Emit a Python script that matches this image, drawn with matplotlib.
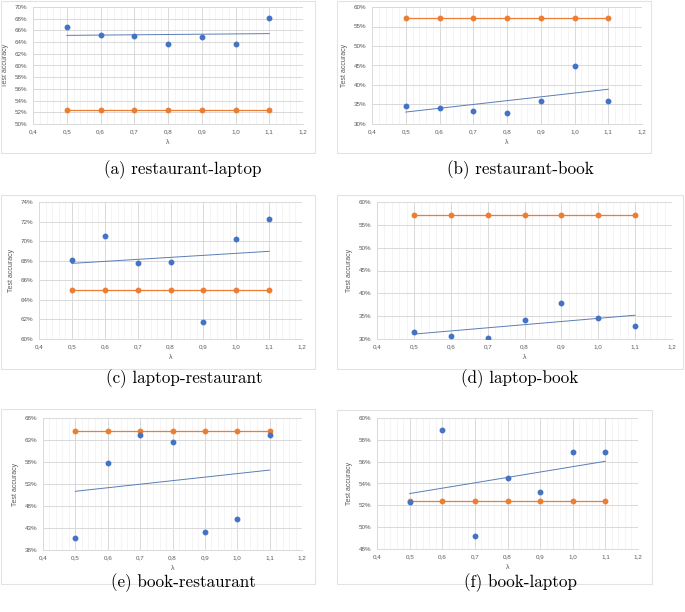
import numpy as np
import matplotlib
matplotlib.use("Agg")
import matplotlib.pyplot as plt
from matplotlib.patches import Rectangle
from matplotlib.ticker import MultipleLocator, FuncFormatter

# lambda values on the x axis
lam = [0.5, 0.6, 0.7, 0.8, 0.9, 1.0, 1.1]

# test accuracy (%) per lambda, blue points
acc_rest_laptop = [66.6, 65.2, 65.0, 63.6, 64.9, 63.7, 68.1]
acc_rest_book = [34.7, 34.2, 33.4, 32.9, 36.0, 44.9, 35.8]
acc_laptop_rest = [68.1, 70.5, 67.8, 67.85, 61.7, 70.2, 72.25]
acc_laptop_book = [31.6, 30.7, 30.2, 34.2, 37.8, 34.6, 32.9]
acc_book_rest = [40.7, 57.8, 64.1, 62.6, 42.0, 45.0, 64.1]
acc_book_laptop = [52.3, 58.9, 49.2, 54.5, 53.2, 56.9, 56.9]

# baseline accuracy (%), orange line
base_rest_laptop = [52.4, 52.4, 52.4, 52.4, 52.4, 52.4, 52.4]
base_rest_book = [57.1, 57.1, 57.1, 57.1, 57.1, 57.1, 57.1]
base_laptop_rest = [65.05, 65.05, 65.05, 65.05, 65.05, 65.05, 65.05]
base_laptop_book = [57.05, 57.05, 57.05, 57.05, 57.05, 57.05, 57.05]
base_book_rest = [65.1, 65.1, 65.1, 65.1, 65.1, 65.1, 65.1]
base_book_laptop = [52.4, 52.4, 52.4, 52.4, 52.4, 52.4, 52.4]

captions = ["(a) restaurant-laptop", "(b) restaurant-book",
            "(c) laptop-restaurant", "(d) laptop-book",
            "(e) book-restaurant", "(f) book-laptop"]

W, H = 685, 612
BLUE = "#4472C4"
ORANGE = "#ED7D31"
GRID = "#D9D9D9"
TXT = "#595959"

fig = plt.figure(figsize=(W / 100, H / 100), dpi=100)
plt.rcParams["font.family"] = ["Liberation Sans", "DejaVu Sans"]


def px_rect(x0, y0, x1, y1):
    return [x0 / W, 1 - y1 / H, (x1 - x0) / W, (y1 - y0) / H]


# (axes box px, frame box px, caption pos px, ylim, ystep, data)
panels = [
    ((33, 7, 303, 124), (1, 1, 315, 153), (183, 170), (50, 70), 2,
     acc_rest_laptop, base_rest_laptop),
    ((372, 7, 642, 124), (337, 1, 651, 153), (520, 170), (30, 60), 5,
     acc_rest_book, base_rest_book),
    ((39, 202, 302, 339), (1, 195, 315, 369), (184, 379), (60, 74), 2,
     acc_laptop_rest, base_laptop_rest),
    ((377, 202, 672, 339), (337, 195, 683, 369), (520, 379), (30, 60), 5,
     acc_laptop_book, base_laptop_book),
    ((43, 418, 302, 550), (1, 409, 315, 584), (183, 583), (38, 68), 5,
     acc_book_rest, base_book_rest),
    ((377, 418, 638, 549), (337, 410, 652, 584), (521, 583), (48, 60), 2,
     acc_book_laptop, base_book_laptop),
]

for (abox, fbox, cpos, ylim, ystep, acc, base), cap in zip(panels, captions):
    fig.patches.append(Rectangle((fbox[0] / W, 1 - fbox[3] / H),
                                 (fbox[2] - fbox[0]) / W, (fbox[3] - fbox[1]) / H,
                                 transform=fig.transFigure, fill=False,
                                 edgecolor="#E3E3E3", lw=0.8))
    ax = fig.add_axes(px_rect(*abox))
    ax.set_xlim(0.4, 1.2)
    ax.set_ylim(*ylim)
    ax.xaxis.set_major_locator(MultipleLocator(0.1))
    ax.xaxis.set_minor_locator(MultipleLocator(0.02))
    ax.set_yticks(np.arange(ylim[0], ylim[1] + 1, ystep))
    ax.xaxis.set_major_formatter(FuncFormatter(lambda v, p: f"{v:.1f}".replace(".", ",")))
    ax.yaxis.set_major_formatter(FuncFormatter(lambda v, p: f"{round(v)}%"))
    ax.grid(True, which="major", color=GRID, lw=0.7)
    ax.grid(True, which="minor", axis="x", color="#F2F2F2", lw=0.6)
    ax.set_axisbelow(True)
    for s in ("top", "right", "left"):
        ax.spines[s].set_visible(False)
    ax.spines["bottom"].set_color(GRID)
    ax.spines["bottom"].set_linewidth(0.7)
    ax.tick_params(which="both", length=0, labelsize=4.5, labelcolor=TXT, pad=4)
    ax.set_xlabel("λ", fontsize=5, color=TXT, labelpad=3)
    ax.set_ylabel("Test accuracy", fontsize=5, color=TXT, labelpad=4)

    ax.plot(lam, base, color=ORANGE, lw=0.9, marker="o", ms=3.2, zorder=3)
    ax.plot(lam, acc, ls="none", color=BLUE, marker="o", ms=3.2, zorder=4)
    k, b = np.polyfit(lam, acc, 1)
    xs = np.array([lam[0], lam[-1]])
    ax.plot(xs, k * xs + b, color="#5A7DB5", lw=0.7, zorder=2)

    fig.text(cpos[0] / W, 1 - cpos[1] / H, cap, ha="center", va="center",
             fontsize=12.3, family="cmr10")

fig.savefig("out.png", dpi=100, facecolor="white")
